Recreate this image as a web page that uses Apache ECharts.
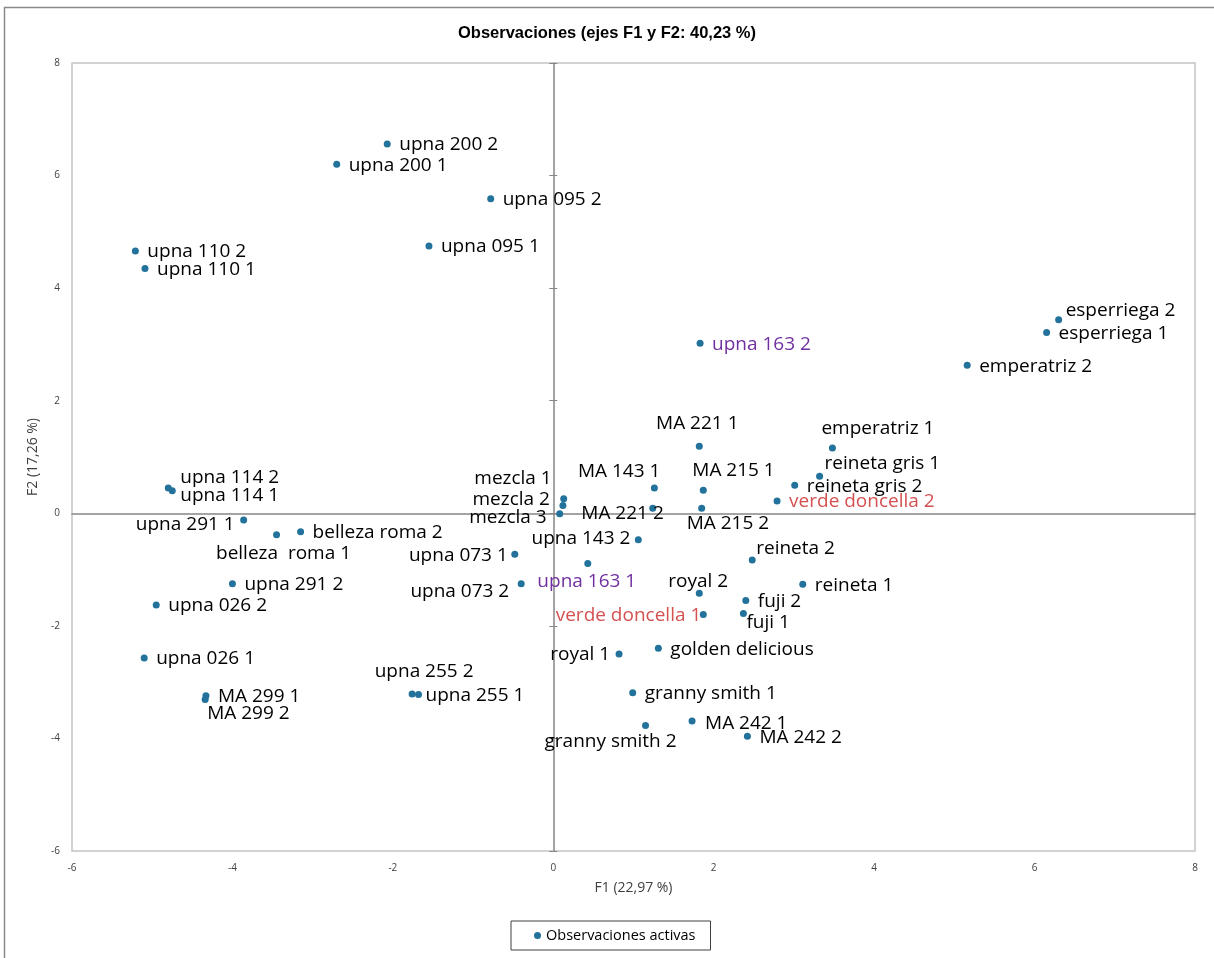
<!DOCTYPE html>
<html>
<head>
<meta charset="utf-8">
<script src="https://cdn.jsdelivr.net/npm/echarts@6/dist/echarts.min.js"></script>
<style>
html,body{margin:0;padding:0;background:#fff;}
#chart{width:1214px;height:958px;}
</style>
</head>
<body>
<div id="chart"></div>
<script>
// ---- data ----
const names = [
  'upna 200 2','upna 200 1','upna 095 2','upna 095 1','upna 110 2','upna 110 1',
  'esperriega 2','esperriega 1','emperatriz 2','upna 163 2','MA 221 1','emperatriz 1',
  'reineta gris 1','reineta gris 2','verde doncella 2','MA 143 1','MA 215 1','MA 221 2',
  'MA 215 2','mezcla 1','mezcla 2','mezcla 3','upna 143 2','upna 163 1','upna 073 1',
  'upna 073 2','reineta 2','reineta 1','royal 2','fuji 2','fuji 1','verde doncella 1',
  'royal 1','golden delicious','granny smith 1','granny smith 2','MA 242 1','MA 242 2',
  'upna 255 2','upna 255 1','MA 299 1','MA 299 2','upna 026 1','upna 026 2','upna 291 2',
  'upna 291 1','belleza  roma 1','belleza roma 2','upna 114 2','upna 114 1'
];
const f1 = [
  -2.07,-2.70,-0.78,-1.55,-5.21,-5.09,
  6.30,6.15,5.16,1.83,1.82,3.48,
  3.32,3.01,2.79,1.26,1.87,1.24,
  1.85,0.13,0.12,0.08,1.06,0.43,-0.48,
  -0.40,2.48,3.11,1.82,2.40,2.37,1.87,
  0.82,1.31,0.99,1.15,1.73,2.42,
  -1.76,-1.68,-4.33,-4.34,-5.10,-4.95,-4.00,
  -3.86,-3.45,-3.15,-4.80,-4.75
];
const f2 = [
  6.56,6.20,5.59,4.75,4.66,4.35,
  3.44,3.21,2.63,3.02,1.19,1.16,
  0.66,0.50,0.22,0.45,0.41,0.09,
  0.09,0.26,0.14,-0.01,-0.47,-0.89,-0.73,
  -1.25,-0.83,-1.26,-1.42,-1.55,-1.78,-1.80,
  -2.50,-2.40,-3.19,-3.77,-3.69,-3.96,
  -3.21,-3.22,-3.24,-3.31,-2.57,-1.63,-1.25,
  -0.12,-0.38,-0.33,0.45,0.40
];
const xTicks = [-6,-4,-2,0,2,4,6,8];
const yTicks = [-6,-4,-2,0,2,4,6,8];
const seriesName = 'Observaciones activas';
const titleText = 'Observaciones (ejes F1 y F2: 40,23 %)';
const xName = 'F1 (22,97 %)';
const yName = 'F2 (17,26 %)';
const purpleNames = ['upna 163 2','upna 163 1'];
const redNames = ['verde doncella 2','verde doncella 1'];

// ---- label placement (style): [dx, dy, align] from dot centre ----
const labelLayout = {
  'esperriega 2':[7,-9,'left'],
  'upna 255 1':[7,1,'left'],
  'upna 114 2':[12,-10,'left'],
  'upna 114 1':[8,5,'left'],
  'MA 221 1':[-2,-23,'center'],
  'emperatriz 1':[-11,-19,'left'],
  'reineta gris 1':[5,-13,'left'],
  'MA 143 1':[6,-16,'right'],
  'MA 215 1':[-11,-20,'left'],
  'MA 221 2':[11,5,'right'],
  'MA 215 2':[-15,15,'left'],
  'mezcla 1':[-12,-20,'right'],
  'mezcla 2':[-13,-6,'right'],
  'mezcla 3':[-13,4,'right'],
  'upna 143 2':[-8,-1,'right'],
  'upna 163 1':[-1,18,'center'],
  'upna 073 1':[-7,1,'right'],
  'upna 073 2':[-12,8,'right'],
  'reineta 2':[4,-11,'left'],
  'royal 2':[-1,-12,'center'],
  'fuji 1':[3,9,'left'],
  'verde doncella 1':[-2,1,'right'],
  'royal 1':[-9,1,'right'],
  'granny smith 2':[-35,16,'center'],
  'upna 255 2':[12,-22,'center'],
  'MA 299 2':[2,14,'left'],
  'upna 291 1':[-9,5,'right'],
  'belleza  roma 1':[7,19,'center'],
  'MA 242 1':[13,3,'left']
};
const DEFAULT_LAYOUT = [12,1,'left'];
const SYM = 7;
const DOT = '#23729b';
const PURPLE = '#7030a0';
const RED = '#d55050';
const FONT = 'Open Sans';

const data = names.map((n, i) => {
  const L = labelLayout[n] || DEFAULT_LAYOUT;
  let color = '#000';
  if (purpleNames.includes(n)) color = PURPLE;
  if (redNames.includes(n)) color = RED;
  return {
    name: n,
    value: [f1[i], f2[i]],
    label: {
      position: [L[0] + SYM / 2, L[1] + SYM / 2],
      align: L[2],
      verticalAlign: 'middle',
      color: color
    }
  };
});

const chart = echarts.init(document.getElementById('chart'), null, {renderer: 'canvas'});
const common = {min: -6, max: 8, interval: 2};
const option = {
  animation: false,
  backgroundColor: '#fff',
  title: {
    text: titleText,
    left: 'center',
    top: 20,
    textStyle: {fontFamily: 'Liberation Sans', fontWeight: 'bold', fontSize: 16.5, color: '#000'}
  },
  legend: {
    data: [seriesName],
    left: 511,
    top: 921,
    icon: 'circle',
    itemWidth: 7,
    itemHeight: 7,
    selectedMode: false,
    borderColor: '#404040',
    borderWidth: 1,
    padding: [7, 15, 7, 23],
    textStyle: {fontFamily: FONT, fontSize: 14.5, color: '#000'}
  },
  graphic: [{
    type: 'rect',
    shape: {x: 4.5, y: 7.5, width: 1300, height: 1100},
    style: {fill: 'none', stroke: '#8a8a8a', lineWidth: 1.5},
    silent: true
  }],
  grid: {
    left: 72, right: 19, top: 63, bottom: 107,
    show: true, borderColor: '#c4c4c4', borderWidth: 1.5, containLabel: false
  },
  xAxis: [
    Object.assign({
      type: 'value', position: 'bottom',
      name: xName, nameLocation: 'middle', nameGap: 30,
      nameTextStyle: {fontFamily: FONT, fontSize: 14, color: '#404040'},
      axisLine: {show: false, onZero: false},
      axisTick: {show: false},
      splitLine: {show: false},
      axisLabel: {fontFamily: FONT, fontSize: 10, color: '#404040', margin: 12,
        formatter: v => xTicks.includes(v) ? String(v) : ''}
    }, common),
    Object.assign({
      type: 'value',
      axisLine: {show: true, onZero: true, onZeroAxisIndex: 0, lineStyle: {color: '#868686', width: 1.5}},
      axisTick: {show: false},
      axisLabel: {show: false},
      splitLine: {show: false}
    }, common)
  ],
  yAxis: [
    Object.assign({
      type: 'value', position: 'left',
      name: yName, nameLocation: 'middle', nameGap: 27,
      nameTextStyle: {fontFamily: FONT, fontSize: 14, color: '#404040'},
      axisLine: {show: false, onZero: false},
      axisTick: {show: false},
      splitLine: {show: false},
      axisLabel: {fontFamily: FONT, fontSize: 10, color: '#404040', margin: 12,
        formatter: v => yTicks.includes(v) ? String(v) : ''}
    }, common),
    Object.assign({
      type: 'value',
      axisLine: {show: true, onZero: true, onZeroAxisIndex: 0, lineStyle: {color: '#868686', width: 1.5}},
      axisTick: {show: true, inside: true, length: 4, lineStyle: {color: '#868686', width: 1}},
      axisLabel: {show: false},
      splitLine: {show: false}
    }, common),
    Object.assign({
      type: 'value',
      axisLine: {show: true, onZero: true, onZeroAxisIndex: 0, lineStyle: {color: 'rgba(0,0,0,0)', width: 1}},
      axisTick: {show: true, inside: false, length: 4, lineStyle: {color: '#868686', width: 1}},
      axisLabel: {show: false},
      splitLine: {show: false}
    }, common)
  ],
  series: [{
    name: seriesName,
    type: 'scatter',
    xAxisIndex: 0,
    yAxisIndex: 0,
    symbol: 'circle',
    symbolSize: SYM,
    itemStyle: {color: DOT, opacity: 1},
    label: {
      show: true,
      formatter: '{b}',
      fontFamily: FONT,
      fontSize: 19,
      color: '#000'
    },
    emphasis: {disabled: true},
    data: data
  }]
};
chart.setOption(option);
</script>
</body>
</html>
